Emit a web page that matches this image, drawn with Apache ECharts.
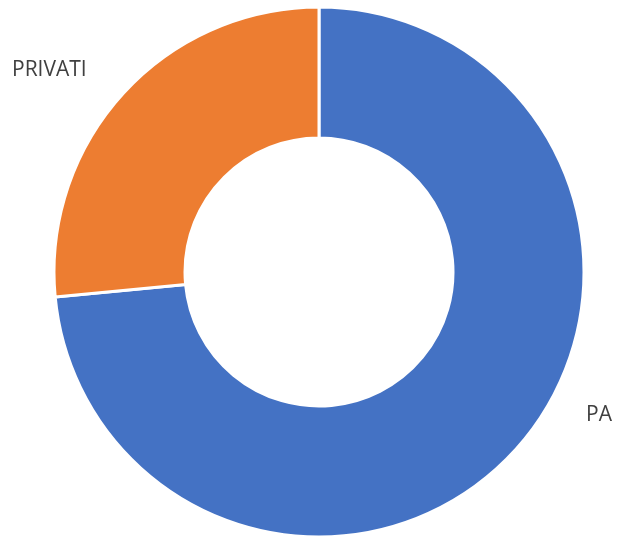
<!DOCTYPE html>
<html>
<head>
<meta charset="utf-8">
<script src="https://cdn.jsdelivr.net/npm/echarts@6/dist/echarts.min.js"></script>
<style>html,body{margin:0;padding:0;background:#fff;}#c{width:618px;height:536px;}</style>
</head>
<body>
<div id="c"></div>
<script>
const categories = ['PA', 'PRIVATI'];
const values = [73.5, 26.5];
const colors = ['#4472C4', '#ED7D31'];

const labelPos = [
  {x: 586, y: 415, align: 'left'},
  {x: 12, y: 70, align: 'left'}
];

const chart = echarts.init(document.getElementById('c'));
chart.setOption({
  animation: false,
  series: [{
    type: 'pie',
    center: [319, 272],
    radius: [134, 265],
    startAngle: 90,
    clockwise: true,
    data: categories.map((n, i) => ({name: n, value: values[i], itemStyle: {color: colors[i]}})),
    itemStyle: {borderColor: '#fff', borderWidth: 3},
    label: {
      show: true,
      position: 'outside',
      alignTo: 'none',
      overflow: 'none',
      width: 200,
      formatter: '{b}',
      fontFamily: 'Open Sans',
      fontSize: 21,
      color: '#404040'
    },
    labelLine: {show: false},
    labelLayout: function (p) {
      const lp = labelPos[p.dataIndex];
      return {x: lp.x, y: lp.y, align: lp.align, verticalAlign: 'middle', fontSize: 21};
    },
    emphasis: {disabled: true}
  }]
});
</script>
</body>
</html>
